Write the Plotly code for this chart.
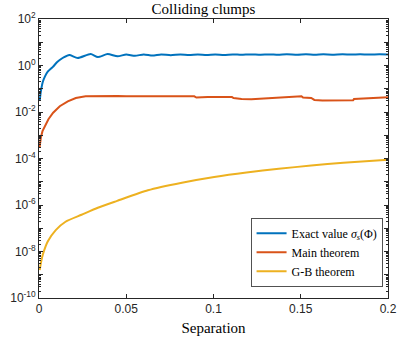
import plotly.graph_objects as go

# ---- data ----
exact_x = [0.0004, 0.001, 0.0022, 0.0035, 0.005, 0.0078, 0.0106, 0.0133, 0.0155, 0.0175,
           0.0222, 0.0296, 0.0337, 0.0393, 0.045, 0.050, 0.055, 0.060, 0.065, 0.070,
           0.0755, 0.081, 0.086, 0.091, 0.096, 0.101, 0.106, 0.111, 0.116, 0.121,
           0.127, 0.132, 0.137, 0.142, 0.148, 0.153, 0.158, 0.163, 0.168, 0.174,
           0.179, 0.184, 0.189, 0.195, 0.2]
exact_y = [0.030, 0.071, 0.20, 0.35, 0.54, 0.85, 1.45, 2.05, 2.5, 2.8,
           2.1, 3.1, 2.3, 3.1, 2.5, 2.95, 2.6, 3.0, 2.7, 3.0,
           2.75, 3.0, 2.8, 3.0, 2.85, 3.0, 2.85, 3.0, 2.88, 3.0,
           2.9, 3.0, 2.9, 3.02, 2.92, 3.02, 2.92, 3.02, 2.93, 3.03,
           2.95, 3.03, 2.95, 3.03, 3.0]

main_x = [0.0003, 0.0011, 0.0020, 0.0030, 0.0054, 0.0081, 0.0119, 0.0165, 0.0211, 0.0267,
          0.030, 0.035, 0.040, 0.045, 0.050, 0.055, 0.060, 0.069, 0.089,
          0.0902, 0.0967, 0.1106, 0.1115, 0.1161, 0.1217, 0.1504, 0.1513, 0.156, 0.1578,
          0.1624, 0.180, 0.1805, 0.2]
main_y = [2.9e-4, 8.3e-4, 1.5e-3, 2.2e-3, 4.9e-3, 9.3e-3, 0.0178, 0.0288, 0.040, 0.047,
          0.048, 0.049, 0.048, 0.049, 0.048, 0.048, 0.047, 0.047, 0.047,
          0.042, 0.044, 0.044, 0.040, 0.036, 0.035, 0.048, 0.042, 0.040, 0.033,
          0.031, 0.032, 0.036, 0.043]

gb_x = [0.0004, 0.0012, 0.0022, 0.005, 0.0096, 0.0152, 0.0244, 0.0337, 0.0448, 0.0624,
        0.0819, 0.1004, 0.1189, 0.1374, 0.156, 0.1744, 0.2]
gb_y = [1.6e-9, 3.5e-9, 7.4e-9, 2.7e-8, 8.3e-8, 1.9e-7, 3.8e-7, 7.6e-7, 1.5e-6, 4.3e-6,
        9.1e-6, 1.6e-5, 2.5e-5, 3.6e-5, 5.0e-5, 6.6e-5, 8.9e-5]

series_names = ["Exact value <i>σ</i><sub><i>s</i></sub>(Φ)", "Main theorem", "G-B theorem"]
series_colors = ["#0072BD", "#D95319", "#EDB120"]
series_shapes = ["spline", "linear", "spline"]

x_ticks = [0, 0.05, 0.1, 0.15, 0.2]
x_ticktext = ["0", "0.05", "0.1", "0.15", "0.2"]
y_exponents = list(range(-10, 3))
y_labelled = [-10, -8, -6, -4, -2, 0, 2]

# ---- figure ----
fig = go.Figure()
for xs, ys, name, col, shp in zip([exact_x, main_x, gb_x], [exact_y, main_y, gb_y],
                                  series_names, series_colors, series_shapes):
    fig.add_trace(go.Scatter(x=xs, y=ys, mode="lines", name=name,
                             line=dict(color=col, width=2, shape=shp, smoothing=0.6)))

y_tickvals = [10.0 ** e for e in y_exponents]
y_ticktext = [("10<sup>%d</sup>" % e) if e in y_labelled else "" for e in y_exponents]
y_minor = [k * 10.0 ** e for e in range(-10, 2) for k in range(2, 10)]

axis_col = "#262626"
serif = "Liberation Serif, Times New Roman, serif"
sans = "Liberation Sans, Arial, sans-serif"

fig.update_layout(
    width=407, height=344,
    margin=dict(l=36, r=10, t=19, b=38),
    paper_bgcolor="white", plot_bgcolor="white",
    title=dict(text="Colliding clumps", x=0.5, xanchor="center", y=0.975, yanchor="middle",
               font=dict(family=serif, size=15, color="black")),
    showlegend=True,
    legend=dict(x=0.985, y=0.04, xanchor="right", yanchor="bottom",
                bgcolor="white", bordercolor=axis_col, borderwidth=0.8,
                font=dict(family=serif, size=12, color="black"),
                tracegroupgap=0, itemwidth=30),
    xaxis=dict(range=[0, 0.2], tickvals=x_ticks, ticktext=x_ticktext,
               ticks="inside", ticklen=4, tickcolor=axis_col, showline=True,
               linecolor=axis_col, linewidth=0.8, mirror="ticks", showgrid=False,
               zeroline=False, ticklabeloverflow="allow",
               tickfont=dict(family=sans, size=12, color=axis_col),
               title=dict(text="Separation", standoff=7,
                          font=dict(family=serif, size=15, color="black"))),
    yaxis=dict(type="log", range=[-10, 2], tickvals=y_tickvals, ticktext=y_ticktext,
               ticks="inside", ticklen=4, tickcolor=axis_col, showline=True,
               linecolor=axis_col, linewidth=0.8, mirror="ticks", showgrid=False,
               zeroline=False, tickfont=dict(family=sans, size=12, color=axis_col),
               minor=dict(tickvals=y_minor, ticks="inside", ticklen=2,
                          tickcolor=axis_col, showgrid=False)),
)

fig.write_html(
    "out.html",
    config={"displayModeBar": False, "responsive": False},
    post_script=("document.body.style.margin='0';document.body.style.padding='0';"
                 "document.documentElement.style.overflow='hidden';"),
)
